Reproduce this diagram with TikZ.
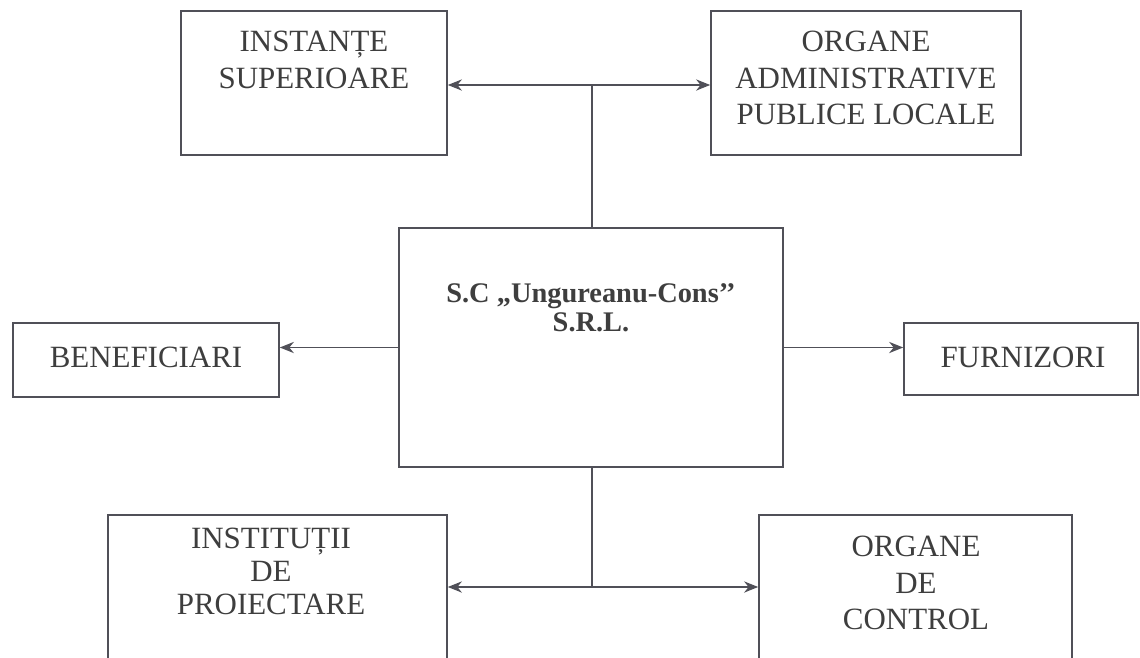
\documentclass[tikz,border=0pt]{standalone}
\usepackage{fontspec}
\setmainfont{Liberation Serif}
\definecolor{linegray}{RGB}{80, 80, 88}
\definecolor{textgray}{RGB}{62, 62, 62}
\usetikzlibrary{arrows.meta, positioning, calc}
\newcommand{\px}{0.025cm}
\tikzset{
  orgbox/.style={draw=linegray, line width=1.2pt, fill=white, inner sep=0pt},
  orgtext/.style={text=textgray, align=center, inner sep=0pt, font=\fontsize{22}{26}\selectfont},
  firmtext/.style={text=textgray, align=center, inner sep=0pt, font=\bfseries\fontsize{20.2}{20.6}\selectfont},
  link/.style={draw=linegray, line width=1.2pt},
  flow/.style={link, -{Stealth[length=10pt, width=8pt]}},
  flowboth/.style={link, {Stealth[length=10pt, width=8pt]}-{Stealth[length=10pt, width=8pt]}},
}

\begin{document}
\begin{tikzpicture}[x=\px, y=-\px]
  \useasboundingbox (0,0) rectangle (1140,658);
  \fill[white] (0,0) rectangle (1140,658);
  \clip (0,0) rectangle (1140,658);

  % Boxes
  \node[orgbox, minimum width=266*\px, minimum height=144*\px] (inst) at (314, 83) {};
  \node[orgbox, minimum width=310*\px, minimum height=144*\px] (admin) at (866, 83) {};
  \node[orgbox, minimum width=384*\px, minimum height=239*\px] (firma) at (591, 347.5) {};
  \node[orgbox, minimum width=266*\px, minimum height=74*\px] (benef) at (146, 360) {};
  \node[orgbox, minimum width=234*\px, minimum height=72*\px] (furn) at (1021, 359) {};
  \node[orgbox, minimum width=339*\px, minimum height=165*\px] (proiect) at (277.5, 597.5) {};
  \node[orgbox, minimum width=313*\px, minimum height=165*\px] (control) at (915.5, 597.5) {};

  % Texts
  \node[orgtext] (inst-t) at (314, 60) {INSTANȚE\\SUPERIOARE};
  \node[orgtext] (admin-t) at (866, 78) {ORGANE\\ADMINISTRATIVE\\PUBLICE LOCALE};
  \node[firmtext] (firma-t) at (591, 308) {S.C „Ungureanu-Cons’’\\S.R.L.};
  \node[orgtext] (benef-t) at (146, 357) {BENEFICIARI};
  \node[orgtext] (furn-t) at (1023, 357) {FURNIZORI};
  \node[orgtext, font=\fontsize{22}{23.5}\selectfont] (proiect-t) at (271, 571) {INSTITUȚII\\DE\\PROIECTARE};
  \node[orgtext] (control-t) at (916, 583) {ORGANE\\DE\\CONTROL};

  % Connectors
  \coordinate (topj) at (592, 85);
  \coordinate (botj) at (592, 587);
  \draw[link] (firma.north -| topj) -- (topj);
  \draw[flowboth] (inst.east |- topj) -- (admin.west |- topj);
  \draw[flow] (firma.west) -- (benef.east |- firma.west);
  \draw[flow] (firma.east) -- (furn.west |- firma.east);
  \draw[link] (firma.south -| botj) -- (botj);
  \draw[flowboth] (proiect.east |- botj) -- (control.west |- botj);
\end{tikzpicture}
\end{document}
